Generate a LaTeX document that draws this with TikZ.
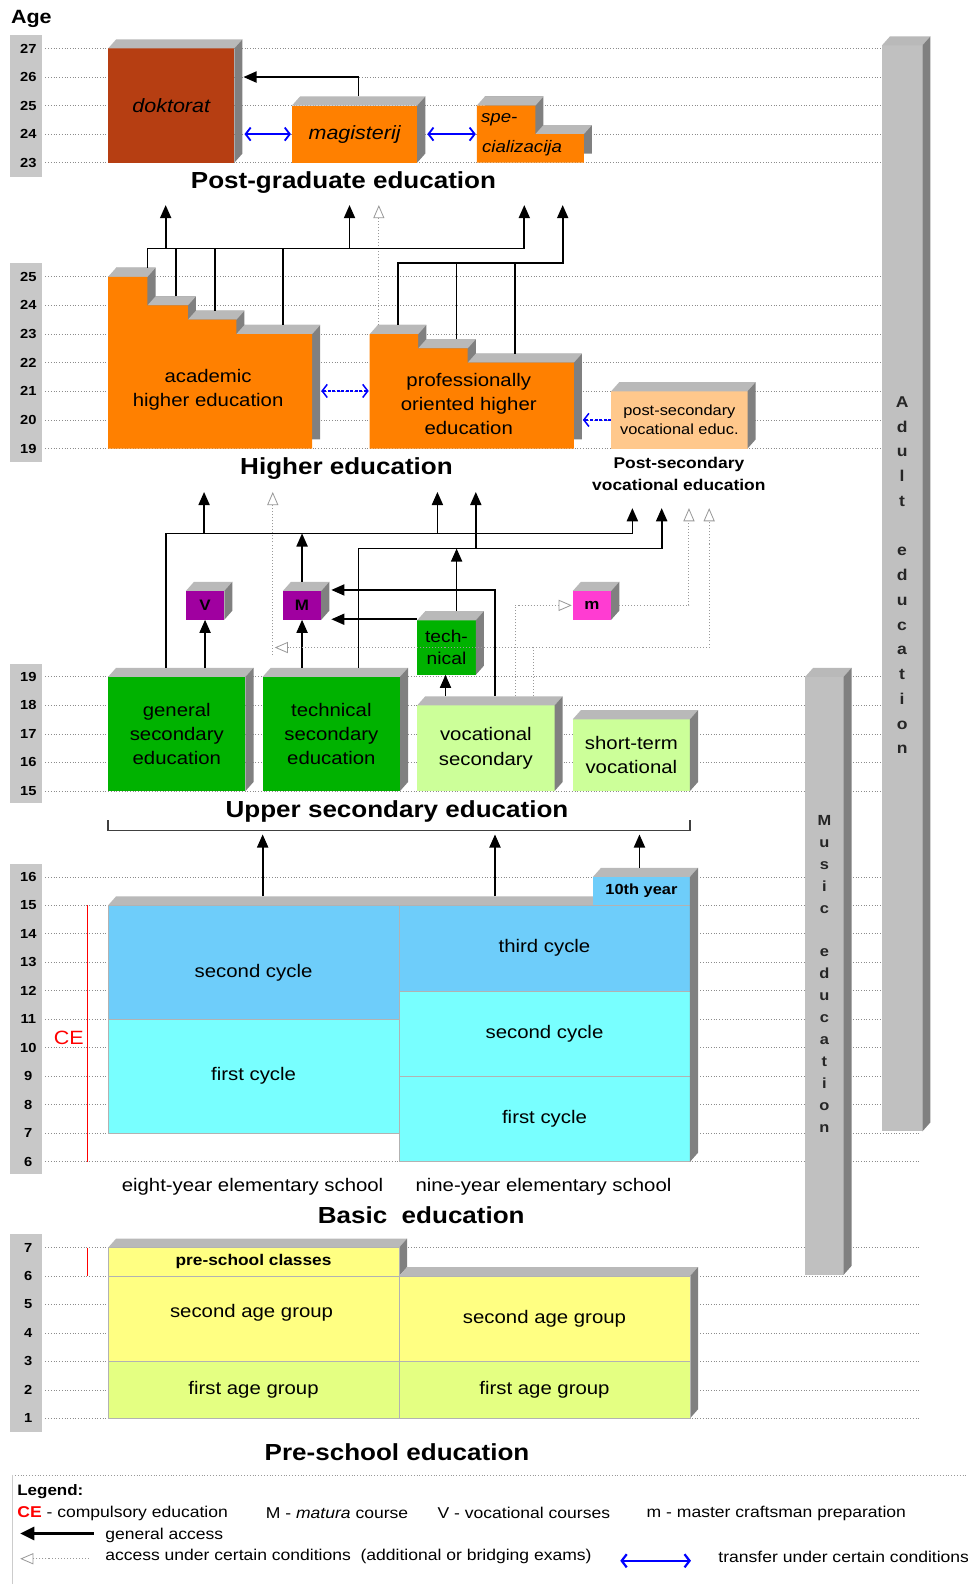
\documentclass[tikz,border=0pt]{standalone}
\usepackage{fontspec}
\setmainfont{Liberation Sans}[FakeStretch=1.12]
\usetikzlibrary{arrows.meta,calc}
\definecolor{cRust}{RGB}{182,62,18}
\definecolor{cOrange}{RGB}{255,128,0}
\definecolor{cLOr}{RGB}{255,200,140}
\definecolor{cDG}{RGB}{0,178,0}
\definecolor{cLG}{RGB}{204,255,153}
\definecolor{cPurp}{RGB}{160,0,160}
\definecolor{cPink}{RGB}{255,60,210}
\definecolor{cSky}{RGB}{110,205,250}
\definecolor{cCyan}{RGB}{120,255,255}
\definecolor{cYel}{RGB}{255,255,130}
\definecolor{cYG}{RGB}{228,255,130}
\definecolor{topg}{RGB}{185,185,185}
\definecolor{sideg}{RGB}{128,128,128}
\definecolor{cBar}{RGB}{200,200,200}
\definecolor{cBarF}{RGB}{192,192,192}
\definecolor{cBlue}{RGB}{0,0,255}
\newcommand\fz[2]{\fontsize{#1}{#2}\selectfont}
\newcommand\cubefaces[1]{%
  \fill[topg] (#1.north west) -- ++(8,-9) -- ($(#1.north east)+(8,-9)$) -- (#1.north east) -- cycle;
  \fill[sideg] (#1.north east) -- ++(8,-9) -- ($(#1.south east)+(8,-9)$) -- (#1.south east) -- cycle;}
\newcommand\topfaces[1]{\foreach \xa/\xb/\yy in {#1}{\fill[topg] (\xa,\yy) -- ++(8,-9) -- (\xb+8,\yy-9) -- (\xb,\yy) -- cycle;}}
\newcommand\blk[7]{\node[blk,#6,minimum width={(#4)-(#2)},minimum height={(#5)-(#3)}] (#1) at ({((#2)+(#4))/2},{((#3)+(#5))/2}) {#7};}
\begin{document}
\begin{tikzpicture}[x=1pt,y=-1pt,
  gridln/.style={draw=black!45, dotted, line width=0.7pt},
  blk/.style={inner sep=0pt, outer sep=0pt, align=center, font=\fz{18}{24}},
  cellb/.style={draw=black!30, line width=0.5pt},
  ttl/.style={inner sep=0pt, font=\fz{23}{27}\bfseries},
  agel/.style={inner sep=0pt, font=\fz{13}{15}\bfseries},
  txt/.style={inner sep=0pt, align=center, font=\fz{18}{24}},
  lgd/.style={inner sep=0pt, anchor=west, font=\fz{15.5}{18}},
  conn/.style={draw=black, line width=1.7pt},
  acc/.style={conn, -{Triangle[length=13pt,width=11pt]}},
  cond/.style={draw=black!40, dotted, line width=1pt, -{Triangle[length=13pt,width=11pt,fill=white,line width=0.8pt]}},
  xfer/.style={draw=cBlue, line width=1.8pt, {Straight Barb[length=5pt,width=13pt]}-{Straight Barb[length=5pt,width=13pt]}},
  xferd/.style={xfer, dash pattern=on 3pt off 1.5pt, line width=1.5pt},
  xferone/.style={draw=cBlue, dash pattern=on 3pt off 1.5pt, line width=1.5pt, -{Straight Barb[length=5pt,width=13pt]}},
]
\fill[white] (0,0) rectangle (958,1568);
\useasboundingbox (0,0) rectangle (958,1568);

% ---------- grid lines ----------
\foreach \y in {48,76.25,104.5,132.75,161,274,302.3,330.7,359,387.3,415.7,444,670,698.25,726.5,754.75,783,868,896.2,924.4,952.6,980.8,1009,1037.2,1065.4,1093.6,1121.8,1150,1235,1263.2,1291.3,1319.5,1347.7,1375.8,1404}{\draw[gridln] (45,\y) -- (910,\y);}

% ---------- age bars ----------
\fill[cBar] (10,35) rectangle (42,175);
\fill[cBar] (10,260) rectangle (42,457);
\fill[cBar] (10,657) rectangle (42,795);
\fill[cBar] (10,855) rectangle (42,1162);
\fill[cBar] (10,1222) rectangle (42,1418);
\foreach \a/\y in {27/48,26/76.25,25/104.5,24/132.75,23/161}{\node[agel] (pa\a) at (28,\y) {\a};}
\foreach \a/\y in {25/274,24/302.3,23/330.7,22/359,21/387.3,20/415.7,19/444}{\node[agel] (ha\a) at (28,\y) {\a};}
\foreach \a/\y in {19/670,18/698.25,17/726.5,16/754.75,15/783}{\node[agel] (ua\a) at (28,\y) {\a};}
\foreach \a/\y in {16/868,15/896.2,14/924.4,13/952.6,12/980.8,11/1009,10/1037.2,9/1065.4,8/1093.6,7/1121.8,6/1150}{\node[agel] (ba\a) at (28,\y) {\a};}
\foreach \a/\y in {7/1235,6/1263.2,5/1291.3,4/1319.5,3/1347.7,2/1375.8,1/1404}{\node[agel] (sa\a) at (28,\y) {\a};}
\node[inner sep=0pt, font=\fz{19}{22}\bfseries] (age) at (31,19) {Age};

% ---------- adult and music education ----------
\blk{adult}{873}{45}{913}{1120}{fill=cBarF}{}\cubefaces{adult}
\node[inner sep=0pt, align=center, font=\fz{15.5}{24.5}\bfseries, text=black!85] (adultt) at (893,569.5) {A\\d\\u\\l\\t\\~\\e\\d\\u\\c\\a\\t\\i\\o\\n};
\blk{music}{797}{670}{835}{1262}{fill=cBarF}{}\cubefaces{music}
\node[inner sep=0pt, align=center, font=\fz{14.5}{21.7}\bfseries, text=black!85] (musict) at (816,964) {M\\u\\s\\i\\c\\~\\e\\d\\u\\c\\a\\t\\i\\o\\n};

% ---------- post-graduate ----------
\blk{dok}{107}{48}{232}{161}{fill=cRust,font=\fz{19}{22}\itshape}{doktorat}\cubefaces{dok}
\blk{mag}{289}{104.5}{413}{161}{fill=cOrange,font=\fz{19}{22}\itshape}{magisterij}\cubefaces{mag}
\fill[sideg,shift={(8,-9)}] (472,104.5) -- (530,104.5) -- (530,132.75) -- (578,132.75) -- (578,161) -- (472,161) -- cycle;
\topfaces{472/530/104.5,530/578/132.75}
\fill[cOrange] (472,104.5) -- (530,104.5) -- (530,132.75) -- (578,132.75) -- (578,161) -- (472,161) -- cycle;
\node[inner sep=0pt, anchor=west, font=\fz{16.5}{19}\itshape] (spe) at (476,119) {spe-};
\node[inner sep=0pt, anchor=west, font=\fz{16.5}{19}\itshape] (cial) at (477,147) {cializacija};
\node[ttl] (pgt) at (340,181) {Post-graduate education};
\coordinate (magT) at (355,95.5);
\coordinate (dokS) at (241,76.25);
\draw[acc] (magT) |- (dokS);
\coordinate (specW) at (471,132.75);
\draw[xfer] ([xshift=10pt]dok.east |- mag.west) -- ([xshift=-1pt]mag.west);
\draw[xfer] ([xshift=10pt]mag.east) -- (specW);

% ---------- higher education ----------
\fill[sideg,shift={(8,-9)}] (107,274) -- (146,274) -- (146,302.3) -- (186,302.3) -- (186,316.5) -- (234,316.5) -- (234,330.7) -- (309,330.7) -- (309,444) -- (107,444) -- cycle;
\topfaces{107/146/274,146/186/302.3,186/234/316.5,234/309/330.7}
\fill[cOrange] (107,274) -- (146,274) -- (146,302.3) -- (186,302.3) -- (186,316.5) -- (234,316.5) -- (234,330.7) -- (309,330.7) -- (309,444) -- (107,444) -- cycle;
\node[txt] (acadt) at (206,386) {academic\\higher education};
\fill[sideg,shift={(8,-9)}] (366,330.7) -- (414,330.7) -- (414,344.8) -- (463,344.8) -- (463,359) -- (568,359) -- (568,444) -- (366,444) -- cycle;
\topfaces{366/414/330.7,414/463/344.8,463/568/359}
\fill[cOrange] (366,330.7) -- (414,330.7) -- (414,344.8) -- (463,344.8) -- (463,359) -- (568,359) -- (568,444) -- (366,444) -- cycle;
\node[txt] (proft) at (464,400) {professionally\\oriented higher\\education};
\blk{pvs}{605}{387.3}{740}{444}{fill=cLOr,font=\fz{14.5}{19}}{post-secondary\\vocational educ.}\cubefaces{pvs}
\node[ttl] (het) at (343,464) {Higher education};
\node[inner sep=0pt, align=center, font=\fz{15.4}{22}\bfseries] (pvet) at (672,469) {Post-secondary\\vocational education};
\coordinate (acE) at (318,387); \coordinate (prW) at (365,387);
\draw[xferd] (acE) -- (prW);
\coordinate (prE) at (577,415.65);
\draw[xferone] (pvs.west) -- (prE);
% connectors to post-graduate
\coordinate (pgA) at (164,203); \coordinate (pgB) at (346,203);
\coordinate (pgC) at (519,203); \coordinate (pgD) at (557,203);
\coordinate (pgE) at (375,203);
\coordinate (yo) at (0,246); \coordinate (yt) at (0,260);
\coordinate (h1) at (146,265); \coordinate (h2) at (174,293.3);
\coordinate (h3) at (213,307.5); \coordinate (h4) at (280,321.7);
\coordinate (p1) at (394,321.7); \coordinate (p2) at (452,335.8);
\coordinate (p3) at (510,350); \coordinate (p0) at (375,321.7);
\draw[cond] (p0) -- (pgE);
\draw[acc] (h1) -- (h1 |- yo) -- (pgC |- yo) -- (pgC);
\draw[conn] (h2) -- (h2 |- yo);
\draw[conn] (h3) -- (h3 |- yo);
\draw[conn] (h4) -- (h4 |- yo);
\draw[acc] (pgA |- yo) -- (pgA);
\draw[acc] (pgB |- yo) -- (pgB);
\draw[acc] (p1) -- (p1 |- yt) -- (pgD |- yt) -- (pgD);
\draw[conn] (p2) -- (p2 |- yt);
\draw[conn] (p3) -- (p3 |- yt);

% ---------- upper secondary ----------
\blk{gen}{107}{670}{243}{783}{fill=cDG}{general\\secondary\\education}\cubefaces{gen}
\blk{tec}{260}{670}{396}{783}{fill=cDG}{technical\\secondary\\education}\cubefaces{tec}
\blk{voc}{413}{698.25}{549}{783}{fill=cLG}{vocational\\secondary}\cubefaces{voc}
\blk{sht}{567}{712}{683}{783}{fill=cLG}{short-term\\vocational}\cubefaces{sht}
\blk{tn}{413}{614}{471}{668}{fill=cDG,font=\fz{17}{22}}{tech-\\nical}\cubefaces{tn}
\blk{V}{184}{585}{222}{613.5}{fill=cPurp,font=\fz{15}{18}\bfseries}{V}\cubefaces{V}
\blk{M}{280}{585}{318}{613.5}{fill=cPurp,font=\fz{15}{18}\bfseries}{M}\cubefaces{M}
\blk{m}{567}{585}{605}{613.5}{fill=cPink,font=\fz{15}{18}\bfseries}{m}\cubefaces{m}
\node[ttl] (ust) at (393,803) {Upper secondary education};
% connectors
\coordinate (hA) at (202,487); \coordinate (hB) at (433,487); \coordinate (hC) at (471,487);
\coordinate (hE) at (270,487);
\coordinate (psA) at (626,503); \coordinate (psB) at (655,503);
\coordinate (psC) at (682,503); \coordinate (psD) at (702,503);
\coordinate (ya) at (0,528); \coordinate (yb) at (0,543);
\coordinate (g1) at (164,661); \coordinate (g2) at (203,661);
\coordinate (t1) at (355,661); \coordinate (t2) at (299,661);
\draw[acc] (g1) -- (g1 |- ya) -- (psA |- ya) -- (psA);
\draw[acc] (hA |- ya) -- (hA);
\draw[acc] (hB |- ya) -- (hB);
\draw[acc] (t1) -- (t1 |- yb) -- (psB |- yb) -- (psB);
\draw[acc] (hC |- yb) -- (hC);
\draw[acc] (g2) -- (V.south);
\draw[acc] (t2) -- (M.south);
\draw[acc] ([yshift=9pt]M.north) -- (M.north |- ya);
\coordinate (tnT) at (452,605);
\draw[acc] (tnT) -- (tnT |- yb);
\coordinate (tnW) at (413,613); \coordinate (mE1) at (328,613);
\draw[acc] (tnW) -- (mE1);
\coordinate (v1) at (490,689); \coordinate (mE2) at (328,584);
\draw[acc] (v1) |- (mE2);
\coordinate (v2) at (441,689);
\draw[acc] (v2) -- (v2 |- tn.south);
\coordinate (v3) at (510,689); \coordinate (v4) at (528,689);
\coordinate (c1) at (272,641); \coordinate (c2) at (270,648);
\draw[cond] (v3) |- ([xshift=-1pt]m.west);
\draw[cond] (v4) |- (c1);
\draw[cond] (v4 |- c1) -| (psD);
\draw[cond] (c2) -- (hE);
\draw[cond] ([xshift=8pt]m.east) -| (psC);

% ---------- basic education ----------
\fill[topg] (107,896.2) -- ++(8,-9) -- (595,887.2) -- (587,896.2) -- cycle;
\blk{es}{107}{896.2}{395}{1009}{fill=cSky,cellb}{}
\node[txt] (est) at (251,963) {second cycle};
\blk{ef}{107}{1009}{395}{1121.8}{fill=cCyan,cellb}{first cycle}
\blk{nt}{395}{896.2}{683}{980.8}{fill=cSky,cellb}{third cycle}
\blk{ns}{395}{980.8}{683}{1065.4}{fill=cCyan,cellb}{second cycle}
\blk{nf}{395}{1065.4}{683}{1150}{fill=cCyan,cellb}{first cycle}
\blk{ten}{587}{868}{683}{896.2}{fill=cSky,font=\fz{14.5}{18}\bfseries}{10th year}
\fill[topg] (587,868) -- (595,859) -- (691,859) -- (683,868) -- cycle;
\fill[sideg] (683,868) -- (691,859) -- (691,1141) -- (683,1150) -- cycle;
\draw[red, line width=0.8pt] (87,896.2) -- (87,1150);
\node[inner sep=0pt, text=red, font=\fz{19}{22}] (ce) at (68,1027) {CE};
\node[txt] (e8) at (250,1175) {eight-year elementary school};
\node[txt] (n9) at (538,1175) {nine-year elementary school};
\node[ttl] (bet) at (417,1203) {Basic\ \ education};
\coordinate (us1) at (260,826); \coordinate (us2) at (490,826); \coordinate (us3) at (633,826);
\coordinate (b1) at (260,887.2); \coordinate (b2) at (490,887.2); \coordinate (b3) at (633,859);
\draw[acc] (b1) -- (us1);
\draw[acc] (b2) -- (us2);
\draw[acc] (b3) -- (us3);
\draw[black!75, line width=1.2pt] (107,812) -- (107,822) -- (683,822) -- (683,812);

% ---------- pre-school ----------
\fill[topg] (107,1235) -- (115,1226) -- (403,1226) -- (395,1235) -- cycle;
\fill[sideg] (395,1235) -- (403,1226) -- (403,1254.2) -- (395,1263.2) -- cycle;
\fill[topg] (395,1263.2) -- (403,1254.2) -- (691,1254.2) -- (683,1263.2) -- cycle;
\fill[sideg] (683,1263.2) -- (691,1254.2) -- (691,1395) -- (683,1404) -- cycle;
\blk{pc}{107}{1235}{395}{1263.2}{fill=cYel,cellb,font=\fz{15.3}{18}\bfseries}{pre-school classes}
\blk{l2}{107}{1263.2}{395}{1347.7}{fill=cYel,cellb}{}
\node[txt] (l2t) at (249,1300) {second age group};
\blk{l1}{107}{1347.7}{395}{1404}{fill=cYG,cellb}{first age group}
\blk{r2}{395}{1263.2}{683}{1347.7}{fill=cYel,cellb}{second age group}
\blk{r1}{395}{1347.7}{683}{1404}{fill=cYG,cellb}{first age group}
\draw[red, line width=0.8pt] (87,1235) -- (87,1263.2);
\node[ttl] (pst) at (393,1438) {Pre-school education};

% ---------- legend ----------
\draw[black!40, dotted, line width=0.8pt] (12,1460) -- (958,1460);
\draw[black!20, line width=0.8pt] (12,1460) -- (12,1568);
\node[lgd, font=\fz{15}{18}\bfseries] (lg) at (17,1477) {Legend:};
\node[lgd] (lce) at (17,1498) {{\color{red}\bfseries CE} - compulsory education};
\node[lgd] (lM) at (263,1498) {M - \textit{matura} course};
\node[lgd] (lV) at (433,1498) {V - vocational courses};
\node[lgd] (lm) at (640,1498) {m - master craftsman preparation};
\coordinate (la1) at (93,1518); \coordinate (la2) at (20,1518);
\draw[conn, line width=2.5pt, -{Triangle[length=14pt,width=13pt]}] (la1) -- (la2);
\node[lgd] (lga) at (104,1520) {general access};
\coordinate (lc1) at (88,1543); \coordinate (lc2) at (20,1543);
\draw[cond] (lc1) -- (lc2);
\node[lgd] (lac) at (104,1541) {access under certain conditions\ \ (additional or bridging exams)};
\coordinate (lt1) at (614,1545); \coordinate (lt2) at (684,1545);
\draw[xfer, line width=2.2pt] (lt1) -- (lt2);
\node[lgd] (ltr) at (711,1541) {transfer under certain conditions};
\end{tikzpicture}
\end{document}
